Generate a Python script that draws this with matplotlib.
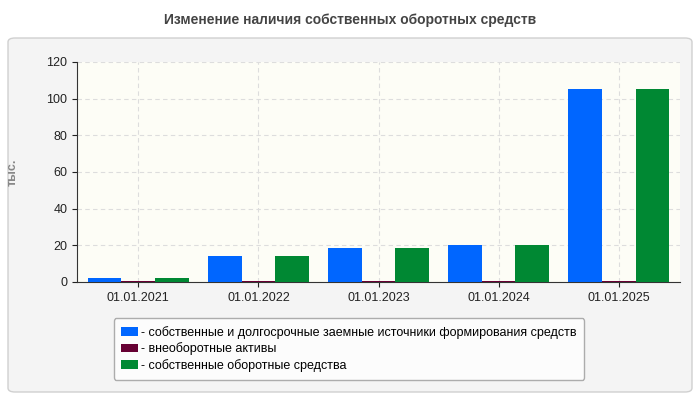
import matplotlib
matplotlib.use("Agg")
import matplotlib.pyplot as plt
from matplotlib.patches import FancyBboxPatch
import numpy as np

categories = ["01.01.2021", "01.01.2022", "01.01.2023", "01.01.2024", "01.01.2025"]
own_long = [2.2, 14.2, 18.6, 20.2, 105.5]
noncurrent = [0.6, 0.6, 0.6, 0.6, 0.6]
own_working = [2.2, 14.2, 18.6, 20.2, 105.5]
labels = ["- собственные и долгосрочные заемные источники формирования средств",
          "- внеоборотные активы",
          "- собственные оборотные средства"]
colors = ["#0066ff", "#660033", "#008833"]

plt.rcParams['font.family'] = ['Liberation Sans', 'DejaVu Sans']
fig = plt.figure(figsize=(7, 4), dpi=100)
fig.patch.set_facecolor("white")
fig.patches.append(FancyBboxPatch((8/700, 8/400), 684/700, 354/400, boxstyle="round,pad=0,rounding_size=0.01",
                                  transform=fig.transFigure, facecolor="#f4f4f4", edgecolor="#d0d0d0", lw=1, zorder=-1))
fig.text(0.5, 0.95, "Изменение наличия собственных оборотных средств", ha="center", va="center",
         fontsize=10, fontweight="bold", color="#444444")
ax = fig.add_axes([77/700, 1-282/400, 603/700, 220/400])
ax.set_facecolor("#fdfdf6")
x = np.arange(len(categories))
w = 0.28
for i, (vals, c, l) in enumerate(zip([own_long, noncurrent, own_working], colors, labels)):
    ax.bar(x + (i-1)*w, vals, width=w, color=c, label=l, zorder=3)
ax.set_xlim(-0.51, 4.51)
ax.set_ylim(0, 120)
ax.set_yticks(range(0, 121, 20))
ax.set_xticks(x)
ax.set_xticklabels(categories)
ax.tick_params(labelsize=9, colors="#222222")
ax.grid(True, ls=(0, (4, 3)), color="#dddddd", lw=0.8, zorder=0)
for s in ["top", "right"]:
    ax.spines[s].set_visible(False)
for s in ["left", "bottom"]:
    ax.spines[s].set_color("#333333")
ax.set_ylabel("тыс.", fontsize=9, fontweight="bold", color="#888888", labelpad=20)
leg = fig.legend(loc="center", bbox_to_anchor=(349/700, 1-349/400), fontsize=9, frameon=True,
                 handlelength=1.3, handleheight=0.7, labelspacing=0.3, borderpad=0.6, handletextpad=0.3)
leg.get_frame().set_edgecolor("#999999")
leg.get_frame().set_facecolor("white")
fig.savefig("out.png", dpi=100)
